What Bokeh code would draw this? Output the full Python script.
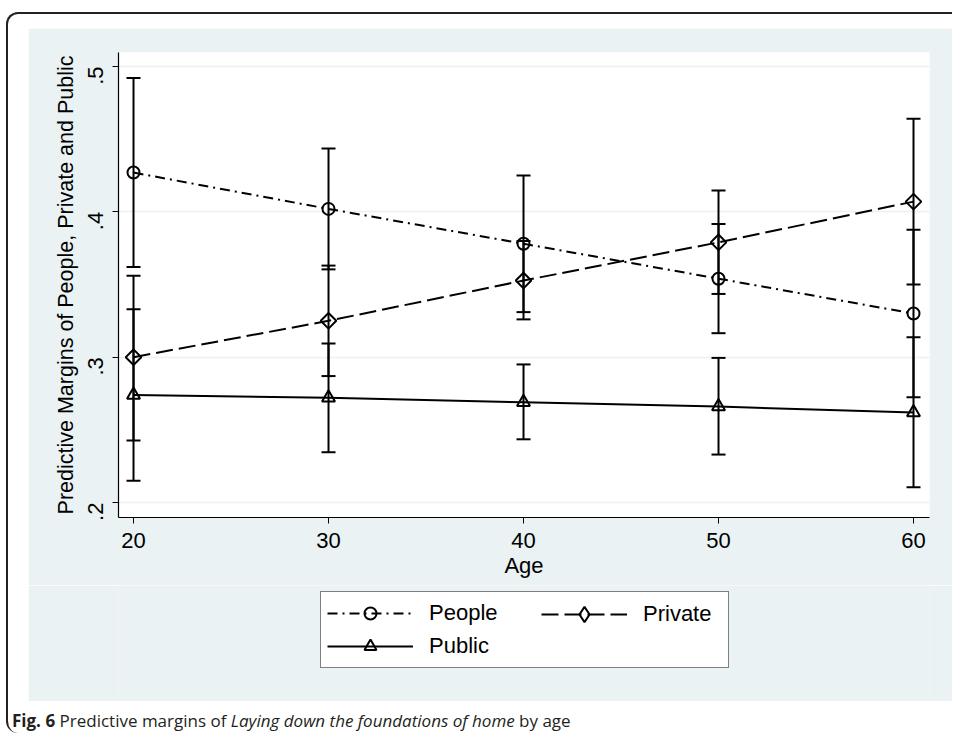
import math
from bokeh.plotting import figure
from bokeh.models import Legend, LegendItem, FixedTicker, Div, Range1d, CustomJSTickFormatter
from bokeh.layouts import column
from bokeh.embed import file_html
from bokeh.resources import INLINE

# ---- data ----
ages = [20, 30, 40, 50, 60]

people = [0.427, 0.402, 0.378, 0.354, 0.330]
people_lo = [0.362, 0.3604, 0.331, 0.3165, 0.2724]
people_hi = [0.492, 0.4436, 0.425, 0.3917, 0.3876]

private = [0.300, 0.325, 0.3527, 0.379, 0.407]
private_lo = [0.2426, 0.287, 0.326, 0.3435, 0.350]
private_hi = [0.356, 0.363, 0.380, 0.4147, 0.464]

public = [0.274, 0.272, 0.269, 0.266, 0.262]
public_lo = [0.215, 0.2346, 0.2435, 0.233, 0.2105]
public_hi = [0.333, 0.3094, 0.295, 0.2995, 0.3137]

series_names = ["People", "Private", "Public"]
x_ticks = [20, 30, 40, 50, 60]
y_ticks = [0.2, 0.3, 0.4, 0.5]

caption_html = ('<b>Fig. 6</b> Predictive margins of <i>Laying down the foundations of home</i> by age')

# ---- styling ----
GRAY = "#eaf2f3"
FONT = "Liberation Sans"
FS = "22px"
LW = 2
CAP = 14

p = figure(width=924, height=557, output_backend="svg", toolbar_location=None,
           x_range=Range1d(19.23, 60.82), y_range=Range1d(0.1897, 0.5096),
           min_border_left=90, min_border_right=23, min_border_top=24, min_border_bottom=68)
p.margin = (14, 0, 0, 20)
p.background_fill_color = "white"
p.border_fill_color = GRAY
p.outline_line_color = None

p.xgrid.grid_line_color = None
p.ygrid.grid_line_color = GRAY
p.ygrid.grid_line_width = 1.5

p.xaxis.ticker = FixedTicker(ticks=x_ticks)
p.yaxis.ticker = FixedTicker(ticks=y_ticks)
p.yaxis.formatter = CustomJSTickFormatter(code="return tick.toFixed(1).replace(/^0/, '');")
p.yaxis.major_label_orientation = math.pi / 2

for ax in (p.xaxis, p.yaxis):
    ax.axis_line_color = "black"
    ax.axis_line_width = 1.2
    ax.major_tick_line_color = "black"
    ax.major_tick_line_width = 1
    ax.major_tick_out = 6
    ax.major_tick_in = 0
    ax.minor_tick_line_color = None
    ax.major_label_text_font = FONT
    ax.major_label_text_font_size = FS
    ax.major_label_text_color = "black"
    ax.axis_label_text_font = FONT
    ax.axis_label_text_font_size = FS
    ax.axis_label_text_font_style = "normal"
    ax.axis_label_text_color = "black"

p.xaxis.axis_label = "Age"
p.yaxis.axis_label = "Predictive Margins of People, Private and Public"
p.yaxis.axis_label_text_font_size = "21.5px"
p.xaxis.major_label_standoff = 9
p.xaxis.axis_label_standoff = 2
p.yaxis.major_label_standoff = 17
p.yaxis.axis_label_standoff = 0


def error_bars(lo, hi):
    p.segment(ages, lo, ages, hi, line_color="black", line_width=LW)
    p.scatter(ages, lo, marker="dash", size=CAP, line_color="black", line_width=LW)
    p.scatter(ages, hi, marker="dash", size=CAP, line_color="black", line_width=LW)


error_bars(people_lo, people_hi)
error_bars(private_lo, private_hi)
error_bars(public_lo, public_hi)

styles = [dict(dash="10 5 2 5", marker="circle", size=12, angle=0.0, key="circle"),
          dict(dash="17 6", marker="square", size=11, angle=math.pi / 4, key="diamond"),
          dict(dash="solid", marker="triangle", size=13, angle=0.0, key="triangle")]

for vals, st in zip([people, private, public], styles):
    p.line(ages, vals, line_color="black", line_width=LW, line_dash=st["dash"])
    p.scatter(ages, vals, marker=st["marker"], size=st["size"], angle=st["angle"],
              fill_color=None, line_color="black", line_width=LW)

# ---- legend strip (part of the grey graph region) ----
lg = figure(width=924, height=116, output_backend="svg", toolbar_location=None,
            x_range=Range1d(0, 1), y_range=Range1d(0, 1),
            x_axis_type=None, y_axis_type=None,
            min_border_left=90, min_border_right=23, min_border_top=0, min_border_bottom=0)
lg.margin = (0, 0, 0, 20)
lg.background_fill_color = GRAY
lg.border_fill_color = GRAY
lg.outline_line_color = None
lg.xgrid.visible = False
lg.ygrid.visible = False

items = {}
for name, vals, st in zip(series_names, [people, private, public], styles):
    # same series drawn outside this strip's view, only used as legend keys
    lr = lg.line(ages, vals, line_color="black", line_width=LW, line_dash=st["dash"])
    mr = lg.scatter(ages, vals, marker=st["key"], size=st["size"],
                    fill_color=None, line_color="black", line_width=LW)
    items[name] = LegendItem(label=name, renderers=[lr, mr])

common = dict(glyph_width=86, label_standoff=16, spacing=3, padding=6,
              label_text_font=FONT, label_text_font_size=FS,
              label_text_color="black", margin=0)

legend_a = Legend(items=[items["People"], items["Public"]], orientation="vertical",
                  location=(202, 33), label_width=293, glyph_height=30, label_height=30,
                  border_line_color="black", border_line_width=1.5,
                  background_fill_color="white", background_fill_alpha=1.0, **common)
legend_b = Legend(items=[items["Private"]], orientation="vertical",
                  location=(423, 68), label_width=20, glyph_height=38, label_height=38,
                  border_line_color=None, background_fill_alpha=0.0, **common)
lg.add_layout(legend_a)
lg.add_layout(legend_b)

cap = Div(text=caption_html, width=900,
          styles={"font-family": "Open Sans", "font-size": "17px", "color": "#231f20",
                  "white-space": "nowrap"})
cap.margin = (8, 0, 0, 4)

root = column(p, lg, cap, styles={"border-left": "2px solid #222", "border-top": "2px solid #222",
                                  "border-top-left-radius": "12px", "border-bottom-left-radius": "12px"})
root.margin = (12, 0, 0, 6)

open("out.html", "w").write(file_html(root, INLINE))
